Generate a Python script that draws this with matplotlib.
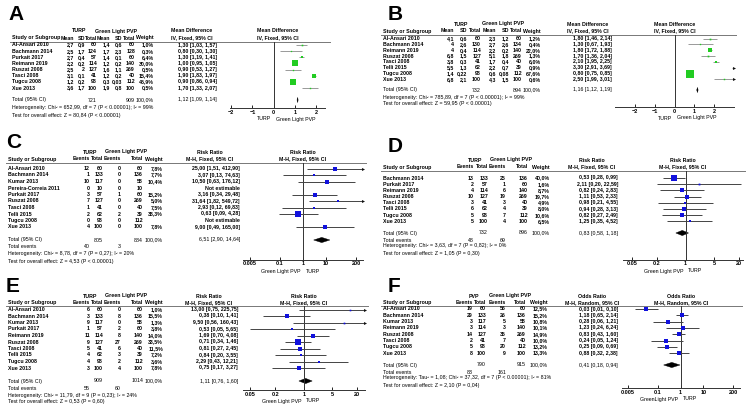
import numpy as np
import matplotlib
matplotlib.use('Agg')
import matplotlib.pyplot as plt
from matplotlib.patches import Polygon
from matplotlib.ticker import NullLocator

plt.rcParams['font.family'] = ['Liberation Sans', 'DejaVu Sans']

W, H = 753, 416

# ---------------- A: mean difference ----------------
a_study = ['Al-Ansari 2010', 'Bachmann 2014', 'Purkait 2017', 'Reimann 2019',
           'Ruszat 2008', 'Tasci 2008', 'Tugcu 2008', 'Xue 2013']
a_turp_mean = [2.7, 2.5, 2.7, 2.2, 2.5, 3.1, 1.2, 3.6]
a_turp_sd = [0.9, 1.7, 0.4, 0.2, 2, 0.1, 0.2, 1.7]
a_turp_n = [60, 124, 57, 114, 127, 41, 98, 100]
a_gl_mean = [1.4, 1.7, 1.4, 1.2, 1.6, 1.2, 0.3, 1.9]
a_gl_sd = [0.6, 2.3, 0.1, 0.2, 1.1, 0.2, 0.03, 0.8]
a_gl_n = [60, 128, 60, 140, 269, 40, 112, 100]
a_weight = [1.0, 0.3, 6.4, 30.0, 0.5, 15.4, 45.9, 0.5]
a_est = [1.30, 0.80, 1.30, 1.00, 0.90, 1.90, 0.90, 1.70]
a_lo = [1.03, 0.30, 1.19, 0.95, 0.53, 1.83, 0.86, 1.33]
a_hi = [1.57, 1.30, 1.41, 1.05, 1.27, 1.97, 0.94, 2.07]
a_total = [1.12, 1.09, 1.14]
a_het = 'Heterogeneity: Chi² = 652,99, df = 7 (P < 0.00001); I² = 99%'
a_test = 'Test for overall effect: Z = 80,84 (P < 0.00001)'

# ---------------- B: mean difference ----------------
b_study = ['Al-Ansari 2010', 'Bachmann 2014', 'Reimann 2019', 'Ruszat 2008',
           'Tasci 2008', 'Telli 2015', 'Tugcu 2008', 'Xue 2013']
b_turp_mean = [4.1, 4, 4, 6.8, 3.8, 5.5, 1.4, 6.8]
b_turp_sd = [0.6, 2.6, 0.4, 1.5, 0.3, 1.3, 0.22, 2.1]
b_turp_n = [60, 130, 114, 127, 41, 62, 98, 100]
b_gl_mean = [2.3, 2.7, 2.2, 5.1, 1.7, 2.2, 0.6, 4.3]
b_gl_sd = [1.2, 2.6, 0.2, 1.8, 0.4, 0.7, 0.08, 1.5]
b_gl_n = [60, 134, 140, 269, 40, 39, 112, 100]
b_weight = [1.2, 0.4, 22.0, 1.3, 6.0, 0.9, 67.6, 0.6]
b_est = [1.80, 1.30, 1.80, 1.70, 2.10, 3.30, 0.80, 2.50]
b_lo = [1.46, 0.67, 1.72, 1.36, 1.95, 2.91, 0.75, 1.99]
b_hi = [2.14, 1.93, 1.88, 2.04, 2.25, 3.69, 0.85, 3.01]
b_total = [1.16, 1.12, 1.19]
b_het = 'Heterogeneity: Chi² = 785,89, df = 7 (P < 0.00001); I² = 99%'
b_test = 'Test for overall effect: Z = 59,95 (P < 0.00001)'

# ---------------- C: risk ratio ----------------
c_study = ['Al-Ansari 2010', 'Bachmann 2014', 'Kumar 2013', 'Pereira-Correia 2011',
           'Purkait 2017', 'Ruszat 2008', 'Tasci 2008', 'Telli 2015', 'Tugcu 2008', 'Xue 2013']
c_turp_ev = [12, 1, 10, 0, 3, 7, 1, 2, 0, 4]
c_turp_n = [60, 133, 117, 10, 57, 127, 41, 62, 98, 100]
c_gl_ev = [0, 0, 0, 0, 1, 0, 0, 2, 0, 0]
c_gl_n = [60, 136, 58, 10, 60, 269, 40, 39, 112, 100]
c_weight = [7.8, 7.7, 10.4, None, 15.2, 5.0, 7.5, 38.3, None, 7.8]
c_est = [25.00, 3.07, 10.50, None, 3.16, 31.64, 2.93, 0.63, None, 9.00]
c_lo = [1.51, 0.13, 0.63, None, 0.34, 1.82, 0.12, 0.09, None, 0.49]
c_hi = [412.90, 74.63, 176.12, None, 29.48, 549.72, 69.83, 4.28, None, 165.00]
c_total = [6.51, 2.90, 14.64]
c_het = 'Heterogeneity: Chi² = 8,78, df = 7 (P = 0,27); I² = 20%'
c_test = 'Test for overall effect: Z = 4,53 (P < 0.00001)'

# ---------------- D: risk ratio ----------------
d_study = ['Bachmann 2014', 'Purkait 2017', 'Reimann 2019', 'Ruszat 2008',
           'Tasci 2008', 'Telli 2015', 'Tugcu 2008', 'Xue 2013']
d_turp_ev = [13, 2, 4, 10, 3, 6, 5, 5]
d_turp_n = [133, 57, 114, 127, 41, 62, 98, 100]
d_gl_ev = [25, 1, 6, 19, 3, 4, 7, 4]
d_gl_n = [136, 60, 140, 269, 40, 39, 112, 100]
d_weight = [40.0, 1.6, 8.7, 19.7, 4.9, 8.0, 10.6, 6.5]
d_est = [0.53, 2.11, 0.82, 1.11, 0.98, 0.94, 0.82, 1.25]
d_lo = [0.28, 0.20, 0.24, 0.53, 0.21, 0.28, 0.27, 0.35]
d_hi = [0.99, 22.59, 2.83, 2.33, 4.55, 3.13, 2.49, 4.52]
d_total = [0.83, 0.58, 1.18]
d_het = 'Heterogeneity: Chi² = 3,63, df = 7 (P = 0,82); I² = 0%'
d_test = 'Test for overall effect: Z = 1,05 (P = 0,30)'

# ---------------- E: risk ratio ----------------
e_study = ['Al-Ansari 2010', 'Bachmann 2014', 'Kumar 2013', 'Purkait 2017', 'Reimann 2019',
           'Ruszat 2008', 'Tasci 2008', 'Telli 2015', 'Tugcu 2008', 'Xue 2013']
e_turp_ev = [6, 3, 9, 1, 11, 9, 5, 4, 4, 3]
e_turp_n = [60, 133, 117, 57, 114, 127, 41, 62, 98, 100]
e_gl_ev = [0, 8, 0, 2, 8, 27, 6, 3, 2, 4]
e_gl_n = [60, 136, 58, 60, 140, 269, 40, 39, 112, 100]
e_weight = [1.0, 15.5, 1.3, 3.8, 14.0, 33.5, 11.5, 7.2, 3.6, 7.8]
e_est = [13.00, 0.38, 9.50, 0.53, 1.69, 0.71, 0.81, 0.84, 2.29, 0.75]
e_lo = [0.75, 0.10, 0.56, 0.05, 0.70, 0.34, 0.27, 0.20, 0.43, 0.17]
e_hi = [225.75, 1.41, 160.43, 5.65, 4.08, 1.46, 2.45, 3.55, 12.21, 3.27]
e_total = [1.11, 0.76, 1.60]
e_het = 'Heterogeneity: Chi² = 11,79, df = 9 (P = 0,23); I² = 24%'
e_test = 'Test for overall effect: Z = 0,53 (P = 0,60)'

# ---------------- F: odds ratio ----------------
f_study = ['Al-Ansari 2010', 'Bachmann 2014', 'Kumar 2013', 'Reimann 2019',
           'Ruszat 2008', 'Tasci 2008', 'Tugcu 2008', 'Xue 2013']
f_pvp_ev = [19, 29, 3, 3, 14, 2, 5, 8]
f_pvp_n = [60, 133, 117, 114, 127, 41, 98, 100]
f_gl_ev = [56, 26, 5, 3, 35, 7, 20, 9]
f_gl_n = [60, 136, 58, 140, 269, 40, 112, 100]
f_weight = [12.5, 15.2, 10.8, 10.1, 14.9, 10.0, 13.2, 13.3]
f_est = [0.03, 1.18, 0.28, 1.23, 0.83, 0.24, 0.25, 0.88]
f_lo = [0.01, 0.65, 0.06, 0.24, 0.43, 0.05, 0.09, 0.32]
f_hi = [0.10, 2.14, 1.21, 6.24, 1.60, 1.24, 0.69, 2.38]
f_total = [0.41, 0.18, 0.94]
f_het = 'Heterogeneity: Tau² = 1,08; Chi² = 37,32, df = 7 (P < 0.00001); I² = 81%'
f_test = 'Test for overall effect: Z = 2,10 (P = 0,04)'

md_ticks = [-2, -1, 0, 1, 2]
md_ticklabels = ['−2', '−1', '0', '1', '2']
rr_ticks_wide = [0.005, 0.1, 1, 10, 200]
rr_ticks_narrow = [0.05, 0.2, 1, 5, 20]

FS = 3.8


def fmt(v):
    return ('%g' % v).replace('.', ',')


def ci_text(e, l, h):
    if e is None:
        return 'Not estimable'
    return ('%.2f [%.2f, %.2f]' % (e, l, h)).replace('.', ',')


def draw_panel(fig, bg, lay, names, cols, weight, est, lo, hi, total, events,
               het, test, mcolor, lcolor):
    t = dict(fontsize=FS, va='center')
    bg.text(lay['label'][0], lay['label'][1], lay['letter'], fontsize=15,
            fontweight='bold', va='center', ha='left')
    nx = lay['name_x']
    # group headers centred over their columns
    for gname, gcols in lay['groups']:
        gx = (cols[gcols[0]][2] - 12 + cols[gcols[1]][2]) / 2
        bg.text(gx, lay['head1'], gname, ha='center', fontweight='bold', **t)
    bg.text(nx, lay['head2'], 'Study or Subgroup', ha='left', fontweight='bold', **t)
    for (hdr, vals, x) in cols:
        bg.text(x, lay['head2'], hdr, ha='right', fontweight='bold', **t)
    bg.text(lay['weight_x'], lay['head2'], 'Weight', ha='right', fontweight='bold', **t)
    bg.text(lay['ci_head'], lay['head1'], lay['measure'], ha='center', fontweight='bold', **t)
    bg.text(lay['ci_head'], lay['head2'], lay['method'], ha='center', fontweight='bold', **t)
    x0, x1 = lay['plot']
    pcx = (x0 + x1) / 2
    bg.text(pcx, lay['head1'], lay['measure'], ha='center', fontweight='bold', **t)
    bg.text(pcx, lay['head2'], lay['method'], ha='center', fontweight='bold', **t)
    bg.plot(lay['line_span'], [lay['line_y']] * 2, color='#777777', lw=0.7)

    rows_y = [lay['row0'] + i * lay['dy'] for i in range(len(names))]
    for i, y in enumerate(rows_y):
        bg.text(nx, y, names[i], ha='left', fontweight='bold', **t)
        for (hdr, vals, x) in cols:
            bg.text(x, y, fmt(vals[i]), ha='right', fontweight='bold', **t)
        if weight[i] is not None:
            bg.text(lay['weight_x'], y, ('%.1f%%' % weight[i]).replace('.', ','),
                    ha='right', fontweight='bold', **t)
        bg.text(lay['ci_x'], y, ci_text(est[i], lo[i], hi[i]),
                ha='right', fontweight='bold', **t)

    ty = lay['total_y']
    bg.text(nx, ty, 'Total (95% CI)', ha='left', **t)
    for (hdr, vals, x) in cols:
        if hdr == 'Total':
            bg.text(x, ty, str(sum(vals)), ha='right', **t)
    bg.text(lay['weight_x'], ty, '100,0%', ha='right', **t)
    bg.text(lay['ci_x'], ty, ci_text(*total), ha='right', **t)
    if events:
        ey = lay['events_y']
        bg.text(nx, ey, 'Total events', ha='left', **t)
        for (hdr, vals, x) in cols:
            if hdr == 'Events':
                bg.text(x, ey, str(sum(vals)), ha='right', **t)
    bg.text(nx, lay['het_y'], het, ha='left', **t)
    bg.text(nx, lay['test_y'], test, ha='left', **t)

    # forest plot
    ay, ly = lay['axis_y'], lay['line_y']
    ax = fig.add_axes([x0 / W, 1 - ay / H, (x1 - x0) / W, (ay - ly) / H])
    if lay['log']:
        ax.set_xscale('log')
    ax.set_xlim(*lay['xlim'])
    ax.set_ylim(ay, ly)
    ax.patch.set_visible(False)
    for s in ['top', 'right', 'left']:
        ax.spines[s].set_visible(False)
    ax.spines['bottom'].set_linewidth(0.7)
    ax.spines['bottom'].set_color('#333333')
    ax.set_yticks([])
    ax.set_xticks(lay['ticks'])
    ax.set_xticklabels(lay['ticklabels'], fontsize=FS + 0.2, fontweight='bold')
    ax.xaxis.set_minor_locator(NullLocator())
    ax.tick_params(axis='x', length=2.5, width=0.6, pad=1.2, direction='in')
    null = 1 if lay['log'] else 0
    ax.axvline(null, color='#333333', lw=0.7)
    xmin, xmax = lay['xlim']
    for i, y in enumerate(rows_y):
        if est[i] is None:
            continue
        l, h = max(lo[i], xmin), min(hi[i], xmax)
        ax.plot([l, h], [y, y], color=lcolor, lw=0.7, solid_capstyle='butt')
        if hi[i] > xmax:
            ax.plot(xmax, y, marker='>', ms=2.2, color='#111111', clip_on=False, mew=0)
        ax.plot(est[i], y, 's', ms=0.56 * np.sqrt(weight[i]) + 0.6,
                color=mcolor, mew=0)
    e, l, h = total
    ax.add_patch(Polygon([(l, ty), (e, ty - 2.6), (h, ty), (e, ty + 2.6)],
                         closed=True, color='black', lw=0.3))
    nxp = ax.transData.transform((null, ay))[0]
    sy = lay['side_y']
    bg.text(nxp - 2.5, sy, lay['side'][0], ha='right', **t)
    bg.text(nxp + 2.5, sy, lay['side'][1], ha='left', **t)
    return ax


fig = plt.figure(figsize=(W / 100, H / 100), dpi=100)
bg = fig.add_axes([0, 0, 1, 1])
bg.set_xlim(0, W)
bg.set_ylim(H, 0)
bg.axis('off')

lay_a = dict(letter='A', label=(8, 15), name_x=12, head1=31, head2=38, line_y=41.5,
             row0=45, dy=6.15, total_y=100, het_y=108, test_y=115,
             groups=[('TURP', (0, 2)), ('Green Light PVP', (3, 5))],
             weight_x=154, ci_x=217, ci_head=192, measure='Mean Difference',
             method='IV, Fixed, 95% CI', plot=(230, 325), axis_y=108, log=False,
             xlim=(-2.05, 2.4), ticks=md_ticks, ticklabels=md_ticklabels,
             line_span=(10, 330), side_y=119, side=('TURP', 'Green Light PVP'))
draw_panel(fig, bg, lay_a, a_study,
           [('Mean', a_turp_mean, 74), ('SD', a_turp_sd, 85), ('Total', a_turp_n, 97),
            ('Mean', a_gl_mean, 110), ('SD', a_gl_sd, 122), ('Total', a_gl_n, 135)],
           a_weight, a_est, a_lo, a_hi, a_total, False, a_het, a_test,
           '#22cc22', '#999999')

lay_b = dict(letter='B', label=(388, 14), name_x=383, head1=24, head2=31, line_y=34.5,
             row0=38.5, dy=5.85, total_y=90, het_y=97, test_y=104,
             groups=[('TURP', (0, 2)), ('Green Light PVP', (3, 5))],
             weight_x=541, ci_x=612, ci_head=588, measure='Mean Difference',
             method='IV, Fixed, 95% CI', plot=(615, 734), axis_y=107, log=False,
             xlim=(-3, 3), ticks=md_ticks, ticklabels=md_ticklabels,
             line_span=(381, 736), side_y=118, side=('TURP', 'Green Light PVP'))
draw_panel(fig, bg, lay_b, b_study,
           [('Mean', b_turp_mean, 454), ('SD', b_turp_sd, 467), ('Total', b_turp_n, 481),
            ('Mean', b_gl_mean, 496), ('SD', b_gl_sd, 509), ('Total', b_gl_n, 522)],
           b_weight, b_est, b_lo, b_hi, b_total, False, b_het, b_test,
           '#22cc22', '#999999')

lay_c = dict(letter='C', label=(6, 143), name_x=8, head1=152, head2=159, line_y=162.5,
             row0=168.5, dy=6.5, total_y=240, events_y=247, het_y=254, test_y=261,
             groups=[('TURP', (0, 1)), ('Green Light PVP', (2, 3))],
             weight_x=163, ci_x=240, ci_head=210, measure='Risk Ratio',
             method='M-H, Fixed, 95% CI', plot=(243, 363), axis_y=259.5, log=True,
             xlim=(0.0025, 400), ticks=rr_ticks_wide, ticklabels=['0.005', '0.1', '1', '10', '200'],
             line_span=(6, 366), side_y=271.5, side=('Green Light PVP', 'TURP'))
draw_panel(fig, bg, lay_c, c_study,
           [('Events', c_turp_ev, 90), ('Total', c_turp_n, 103),
            ('Events', c_gl_ev, 121), ('Total', c_gl_n, 143)],
           c_weight, c_est, c_lo, c_hi, c_total, True, c_het, c_test,
           '#1111dd', '#444444')

lay_d = dict(letter='D', label=(388, 146), name_x=383, head1=160, head2=167, line_y=170.5,
             row0=178, dy=6.2, total_y=233, events_y=240, het_y=246, test_y=253,
             groups=[('TURP', (0, 1)), ('Green Light PVP', (2, 3))],
             weight_x=550, ci_x=618, ci_head=592, measure='Risk Ratio',
             method='M-H, Fixed, 95% CI', plot=(623, 743), axis_y=259.5, log=True,
             xlim=(0.03, 25), ticks=rr_ticks_narrow, ticklabels=['0.05', '0.2', '1', '5', '20'],
             line_span=(381, 745), side_y=271, side=('Green Light PVP', 'TURP'))
draw_panel(fig, bg, lay_d, d_study,
           [('Events', d_turp_ev, 474), ('Total', d_turp_n, 488),
            ('Events', d_gl_ev, 506), ('Total', d_gl_n, 528)],
           d_weight, d_est, d_lo, d_hi, d_total, True, d_het, d_test,
           '#1111dd', '#444444')

lay_e = dict(letter='E', label=(6, 287), name_x=8, head1=296, head2=302.5, line_y=305.5,
             row0=309.5, dy=6.5, total_y=381, events_y=388, het_y=395, test_y=402,
             groups=[('TURP', (0, 1)), ('Green Light PVP', (2, 3))],
             weight_x=163, ci_x=238, ci_head=209, measure='Risk Ratio',
             method='M-H, Fixed, 95% CI', plot=(243, 365), axis_y=390, log=True,
             xlim=(0.033, 31), ticks=rr_ticks_narrow, ticklabels=['0.05', '0.2', '1', '5', '20'],
             line_span=(6, 368), side_y=401, side=('Green Light PVP', 'TURP'))
draw_panel(fig, bg, lay_e, e_study,
           [('Events', e_turp_ev, 90), ('Total', e_turp_n, 103),
            ('Events', e_gl_ev, 121), ('Total', e_gl_n, 143)],
           e_weight, e_est, e_lo, e_hi, e_total, True, e_het, e_test,
           '#1111dd', '#444444')

lay_f = dict(letter='F', label=(388, 287), name_x=383, head1=296, head2=302.5, line_y=305.5,
             row0=309, dy=6.3, total_y=365, events_y=372, het_y=378, test_y=385,
             groups=[('PVP', (0, 1)), ('Green Light PVP', (2, 3))],
             weight_x=548, ci_x=618, ci_head=592, measure='Odds Ratio',
             method='M-H, Random, 95% CI', plot=(622, 740), axis_y=388, log=True,
             xlim=(0.0027, 400), ticks=rr_ticks_wide, ticklabels=['0.005', '0.1', '1', '10', '200'],
             line_span=(381, 742), side_y=399, side=('GreenLight PVP', 'TURP'))
draw_panel(fig, bg, lay_f, f_study,
           [('Events', f_pvp_ev, 473), ('Total', f_pvp_n, 486),
            ('Events', f_gl_ev, 506), ('Total', f_gl_n, 526)],
           f_weight, f_est, f_lo, f_hi, f_total, True, f_het, f_test,
           '#1111dd', '#444444')

fig.savefig('out.png', dpi=100)
